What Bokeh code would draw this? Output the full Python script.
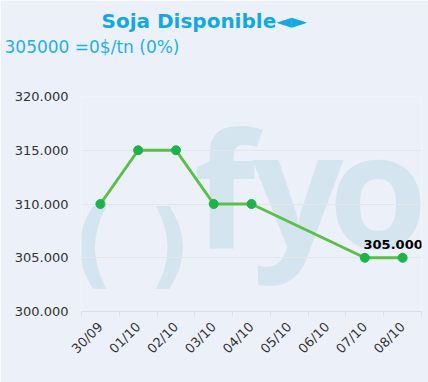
import math
from bokeh.plotting import figure
from bokeh.models import Range1d, FixedTicker, Label, ColumnDataSource, Title
from bokeh.embed import file_html
from bokeh.resources import INLINE
from bokeh.core.properties import value

categories = ["30/09", "01/10", "02/10", "03/10", "04/10", "05/10", "06/10", "07/10", "08/10"]
prices = [310000, 315000, 315000, 310000, 310000, None, None, 305000, 305000]
y_ticks = [300000, 305000, 310000, 315000, 320000]
y_tick_labels = ["300.000", "305.000", "310.000", "315.000", "320.000"]
title_text = "Soja Disponible\u25c4\u25ba"
subtitle_text = "305000 =0$/tn (0%)"
last_label = "305.000"

BG = "#ecf0f9"
WM = "#d5e5f0"

xs = [i for i, v in enumerate(prices) if v is not None]
ys = [v for v in prices if v is not None]
src = ColumnDataSource(dict(x=xs, y=ys))
lab_src = ColumnDataSource(dict(x=[xs[-1]], y=[ys[-1]], t=[last_label]))

p = figure(width=428, height=382, output_backend="svg", toolbar_location=None,
           x_range=Range1d(-0.5, len(categories) - 0.5),
           y_range=Range1d(y_ticks[0], y_ticks[-1]),
           min_border_left=81, min_border_right=7, min_border_top=96, min_border_bottom=71)
p.background_fill_color = BG
p.border_fill_color = BG
p.outline_line_color = None

# header: spacer, subtitle, title (first added sits closest to the plot)
p.add_layout(Title(text=" ", standoff=37, text_font_size="1px", text_color=BG), "above")
p.add_layout(Title(text=subtitle_text, align="left", offset=-77, standoff=0,
                   text_font="DejaVu Sans", text_font_style="normal",
                   text_font_size="17px", text_color="#1fb0e8"), "above")
p.add_layout(Title(text=title_text, align="left", offset=20, standoff=3,
                   text_font="DejaVu Sans", text_font_style="bold",
                   text_font_size="20px", text_color="#12a8e4"), "above")

# x axis
p.xaxis.ticker = FixedTicker(ticks=list(range(len(categories))),
                             minor_ticks=[i - 0.5 for i in range(len(categories) + 1)])
p.xaxis.major_label_overrides = {i: c for i, c in enumerate(categories)}
p.xaxis.major_label_orientation = math.pi / 4
p.xaxis.major_tick_line_color = None
p.xaxis.major_tick_out = 0
p.xaxis.major_tick_in = 0
p.xaxis.minor_tick_line_color = "#dcdfe6"
p.xaxis.minor_tick_out = 5
p.xaxis.minor_tick_in = 0
p.xaxis.axis_line_color = "#dcdfe6"
p.xaxis.major_label_standoff = 8
p.xaxis.major_label_text_font = "DejaVu Sans"
p.xaxis.major_label_text_font_size = "13px"
p.xaxis.major_label_text_color = "#333333"
p.xgrid.visible = False

# y axis
p.yaxis.ticker = FixedTicker(ticks=y_ticks)
p.yaxis.major_label_overrides = {t: l for t, l in zip(y_ticks, y_tick_labels)}
p.yaxis.axis_line_color = None
p.yaxis.major_tick_line_color = None
p.yaxis.minor_tick_line_color = None
p.yaxis.major_tick_out = 0
p.yaxis.major_tick_in = 0
p.yaxis.major_label_standoff = 13
p.yaxis.major_label_text_font = "DejaVu Sans"
p.yaxis.major_label_text_font_size = "13px"
p.yaxis.major_label_text_color = "#333333"
p.ygrid.ticker = FixedTicker(ticks=y_ticks)
p.ygrid.grid_line_color = "#e4e6ea"

# watermark logo
for txt, x, y, font, size, style in [
    ("(", -10, 67, "DejaVu Sans", "93px", "bold"),
    (")", 67, 67, "DejaVu Sans", "93px", "bold"),
    ("f", 112, 126, "Open Sans", "160px", "bold"),
    ("y", 171, 126, "Open Sans", "160px", "bold"),
    ("o", 247, 126, "Open Sans", "160px", "bold"),
]:
    p.add_layout(Label(x=x, y=y, x_units="screen", y_units="screen", text=txt,
                       text_font=font, text_font_size=size, text_font_style=style,
                       text_color=WM, text_align="left", text_baseline="middle",
                       level="image"))

# series
p.line("x", "y", source=src, line_color="#5bbf4a", line_width=3)
p.scatter("x", "y", source=src, size=9, fill_color="#1db34a", line_color="#1db34a")
p.text("x", "y", text="t", source=lab_src, x_offset=-9.5, y_offset=-13.5,
       text_align="center", text_baseline="middle",
       text_font=value("DejaVu Sans"), text_font_style="bold",
       text_font_size="13px", text_color="#000000")

open("out.html", "w").write(file_html(p, INLINE))
